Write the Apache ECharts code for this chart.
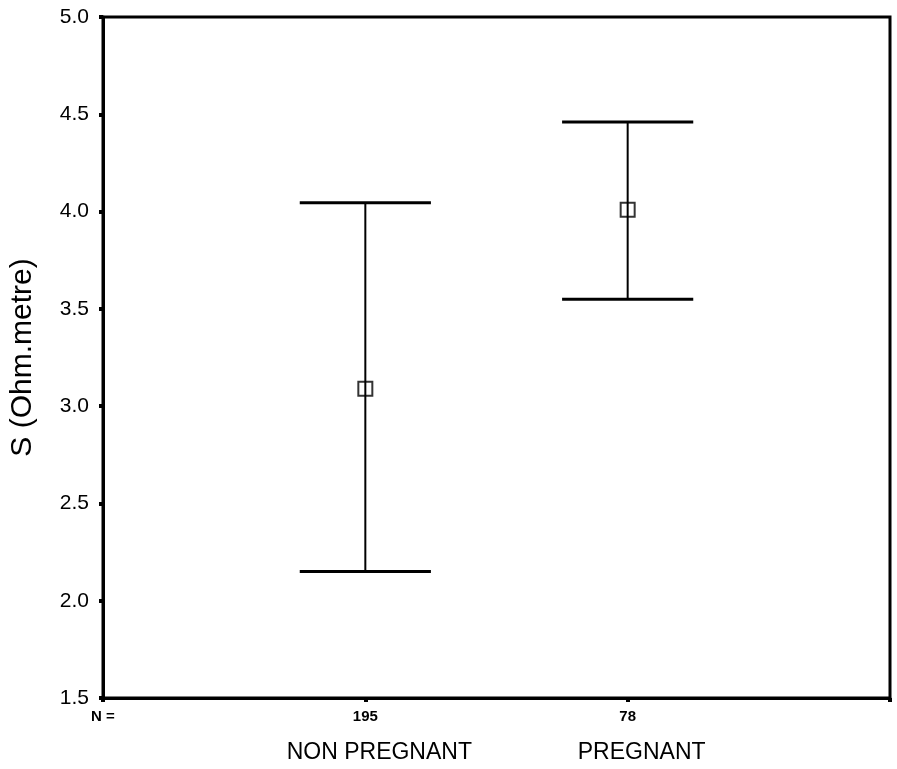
<!DOCTYPE html>
<html>
<head>
<meta charset="utf-8">
<script src="https://cdn.jsdelivr.net/npm/echarts@6/dist/echarts.min.js"></script>
<style>html,body{margin:0;padding:0;background:#fff}#c{width:897px;height:769px}</style>
</head>
<body>
<div id="c"></div>
<script>
const categories = ['NON PREGNANT', 'PREGNANT'];
const counts = ['195', '78'];
const positions = [1, 2];
const means = [3.09, 4.01];
const lowers = [2.15, 3.55];
const uppers = [4.045, 4.46];
const yMin = 1.5, yMax = 5.0, yStep = 0.5;
const capHalf = 0.25;

const chart = echarts.init(document.getElementById('c'));
const barData = positions.map((p, i) => [p, lowers[i], uppers[i]]);
const meanData = positions.map((p, i) => [p, means[i]]);

chart.setOption({
  animation: false,
  backgroundColor: '#fff',
  grid: { left: 102, right: 7, top: 17, bottom: 71, show: true, borderColor: '#000', borderWidth: 3, backgroundColor: 'transparent' },
  xAxis: [{
    type: 'value', min: 0, max: 3, interval: 1,
    splitLine: { show: false },
    axisLine: { show: true, lineStyle: { color: '#000', width: 3 } },
    axisTick: { show: true, length: 4, lineStyle: { color: '#000', width: 4 } },
    axisLabel: {
      margin: 11, color: '#000', fontFamily: 'Liberation Sans, Arial', fontSize: 15, fontWeight: 'bold',
      formatter: v => v === 0 ? 'N =' : (v >= 1 && v <= counts.length ? counts[v - 1] : ''),
      showMinLabel: true, showMaxLabel: true
    }
  }, {
    type: 'value', min: 0, max: 3, interval: 1, position: 'bottom',
    splitLine: { show: false },
    axisLine: { show: false }, axisTick: { show: false },
    axisLabel: {
      margin: 43, color: '#000', fontFamily: 'Liberation Sans, Arial', fontSize: 23,
      padding: [0, 0, 0, 28],
      formatter: v => (v >= 1 && v <= categories.length ? categories[v - 1] : '')
    }
  }],
  yAxis: {
    type: 'value', min: yMin, max: yMax, interval: yStep,
    name: 'S (Ohm.metre)', nameLocation: 'middle', nameGap: 65, nameRotate: 90,
    nameTextStyle: { color: '#000', fontFamily: 'Liberation Sans, Arial', fontSize: 30 },
    splitLine: { show: false },
    axisLine: { show: true, lineStyle: { color: '#000', width: 3 } },
    axisTick: { show: true, length: 4, lineStyle: { color: '#000', width: 4 } },
    axisLabel: { margin: 14, color: '#000', fontFamily: 'Liberation Sans, Arial', fontSize: 21, formatter: v => v.toFixed(1) }
  },
  series: [{
    type: 'custom',
    data: barData,
    renderItem: (params, api) => {
      const x = api.value(0), lo = api.value(1), hi = api.value(2);
      const pLo = api.coord([x, lo]), pHi = api.coord([x, hi]);
      const lL = api.coord([x - capHalf, lo]), lR = api.coord([x + capHalf, lo]);
      const hL = api.coord([x - capHalf, hi]), hR = api.coord([x + capHalf, hi]);
      const st = { stroke: '#000', lineWidth: 2 };
      const cst = { stroke: '#000', lineWidth: 3 };
      return {
        type: 'group',
        children: [
          { type: 'line', shape: { x1: pLo[0], y1: pLo[1], x2: pHi[0], y2: pHi[1] }, style: st },
          { type: 'line', shape: { x1: lL[0], y1: lL[1], x2: lR[0], y2: lR[1] }, style: cst },
          { type: 'line', shape: { x1: hL[0], y1: hL[1], x2: hR[0], y2: hR[1] }, style: cst }
        ]
      };
    },
    z: 2
  }, {
    type: 'scatter',
    data: meanData,
    symbol: 'rect',
    symbolSize: 14,
    itemStyle: { color: 'rgba(0,0,0,0)', borderColor: '#000', borderWidth: 2 },
    z: 3
  }]
});
</script>
</body>
</html>
